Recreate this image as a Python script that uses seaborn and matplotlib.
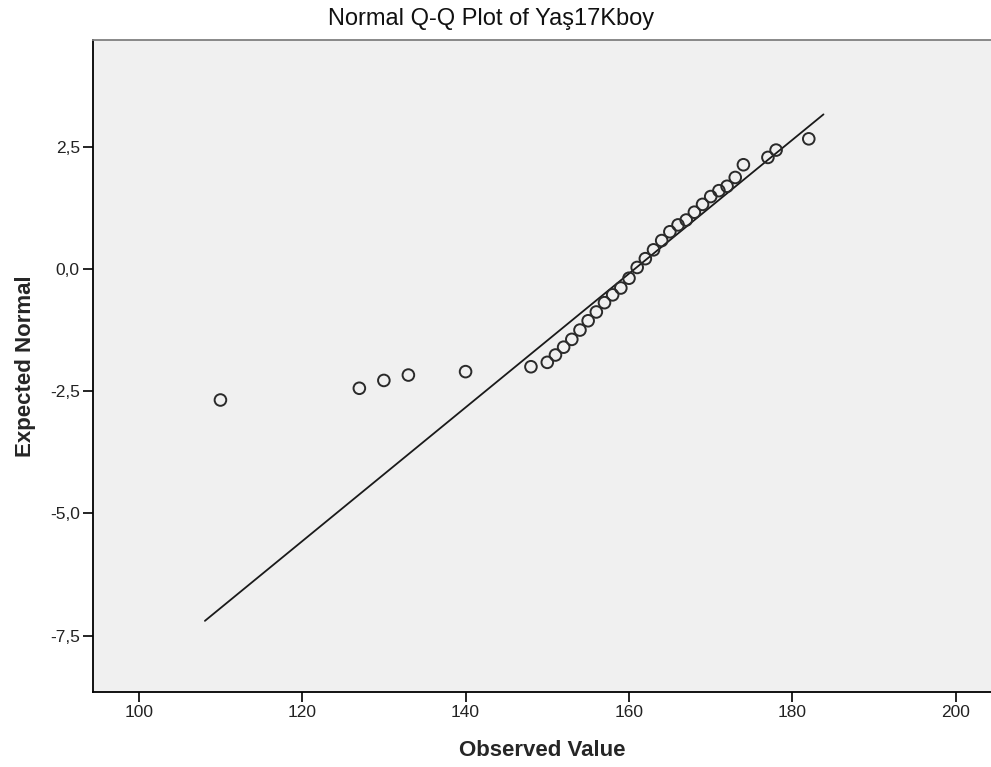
import numpy as np
import pandas as pd
import matplotlib
matplotlib.use("Agg")
import matplotlib.pyplot as plt
import seaborn as sns

# ── Data ────────────────────────────────────────────────────────────────────
observed = [110, 127, 130, 133, 140, 148, 150, 151, 152, 153, 154, 155, 156,
            157, 158, 159, 160, 161, 162, 163, 164, 165, 166, 167, 168, 169,
            170, 171, 172, 173, 174, 177, 178, 182]
expected = [-2.68, -2.44, -2.28, -2.17, -2.10, -2.00, -1.91, -1.76, -1.60,
            -1.44, -1.25, -1.06, -0.88, -0.69, -0.53, -0.39, -0.19, 0.03,
            0.21, 0.39, 0.58, 0.76, 0.90, 1.00, 1.16, 1.32, 1.48, 1.60, 1.69,
            1.87, 2.13, 2.28, 2.43, 2.66]

# reference line: y = (x - mean) / sd
line_x = [108.1, 183.8]
line_mean = 160.7
line_sd = 7.31

x_ticks = [100, 120, 140, 160, 180, 200]
y_ticks = [-7.5, -5.0, -2.5, 0.0, 2.5]

df = pd.DataFrame({"Observed": observed, "Expected": expected})
df_line = pd.DataFrame({"x": line_x})
df_line["y"] = (df_line["x"] - line_mean) / line_sd

# ── Style ──────────────────────────────────────────────────────────────────
sns.set_theme(style="white")
plt.rcParams["font.family"] = ["Liberation Sans", "DejaVu Sans"]

fig = plt.figure(figsize=(9.91, 7.67), dpi=100)
ax = fig.add_axes([0.0938, 0.0978, 0.9062, 0.850])
ax.set_facecolor("#F0F0F0")

sns.lineplot(data=df_line, x="x", y="y", ax=ax, color="#1a1a1a", linewidth=1.3)
sns.scatterplot(data=df, x="Observed", y="Expected", ax=ax, marker="o",
                s=70, facecolor="none", edgecolor="#2a2a2a", linewidth=1.4,
                zorder=3)

ax.set_xlim(94.4, 204.3)
ax.set_ylim(-8.65, 4.68)
ax.set_xticks(x_ticks)
ax.set_yticks(y_ticks)
ax.set_xticklabels([str(t) for t in x_ticks], fontsize=12.5, color="#222222")
ax.set_yticklabels([f"{t:.1f}".replace(".", ",") for t in y_ticks],
                   fontsize=12.5, color="#222222")
ax.tick_params(axis="both", direction="out", length=7, width=1.2,
               color="black", bottom=True, left=True, pad=2.5)

for side in ["left", "bottom"]:
    ax.spines[side].set_color("black")
    ax.spines[side].set_linewidth(1.3)
ax.spines["top"].set_color("#808080")
ax.spines["top"].set_linewidth(1.3)
ax.spines["right"].set_visible(False)

ax.set_xlabel("Observed Value", fontsize=16, fontweight="bold", labelpad=14)
ax.set_ylabel("Expected Normal", fontsize=16, fontweight="bold", labelpad=10)
fig.text(0.496, 0.975, "Normal Q-Q Plot of Yaş17Kboy", ha="center",
         va="center", fontsize=17, color="#111111")

plt.savefig("out.png", dpi=100)
plt.close()
